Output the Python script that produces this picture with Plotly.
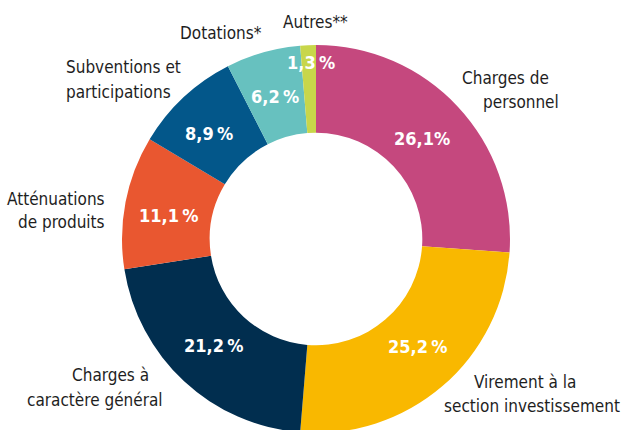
import plotly.graph_objects as go

categories = ["Charges de personnel", "Virement à la section investissement",
              "Charges à caractère général", "Atténuations de produits",
              "Subventions et participations", "Dotations*", "Autres**"]
values = [26.1, 25.2, 21.2, 11.1, 8.9, 6.2, 1.3]
pct_labels = ["26,1%", "25,2\u2009%", "21,2\u2009%", "11,1\u2009%", "8,9\u2009%", "6,2\u2009%", "1,3\u2009%"]
name_lines = [["Charges de", "personnel"],
              ["Virement à la", "section investissement"],
              ["Charges à", "caractère général"],
              ["Atténuations", "de produits"],
              ["Subventions et", "participations"],
              ["Dotations*"],
              ["Autres**"]]
colors = ["#C5487E", "#F9B800", "#012E4F", "#E95730", "#03578A", "#67C1BF", "#C8D64A"]

W, H = 625, 436
FONT = "Liberation Sans Narrow, DejaVu Sans Condensed, Arial Narrow, sans-serif"

# pixel positions of the text (layout only): (x, y, xanchor)
pct_pos = [(422, 138), (417, 346), (213, 345), (168, 215), (209, 133), (275, 96), (311, 62)]
name_pos = [[(505, 78, "center"), (521, 102, "center")],
            [(525, 382, "center"), (622, 406, "right")],
            [(110, 375, "center"), (95, 400, "center")],
            [(107, 199, "right"), (107, 222, "right")],
            [(64, 67, "left"), (64, 92, "left")],
            [(221, 33, "center")],
            [(315, 22, "center")]]

fig = go.Figure(go.Pie(
    labels=categories, values=values, sort=False, direction="clockwise", rotation=0,
    hole=0.548, textinfo="none", hoverinfo="label+percent",
    marker=dict(colors=colors, line=dict(width=0)),
    domain=dict(x=[122 / W, 510 / W], y=[(H - 433) / H, (H - 45) / H]),
    showlegend=False,
))

anns = []
for txt, (px, py) in zip(pct_labels, pct_pos):
    anns.append(dict(x=px / W, y=1 - py / H, xref="paper", yref="paper", text="<b>" + txt + "</b>",
                     showarrow=False, font=dict(family=FONT, size=18, color="white"),
                     xanchor="center", yanchor="middle"))
for lines, poss in zip(name_lines, name_pos):
    for txt, (px, py, xa) in zip(lines, poss):
        anns.append(dict(x=px / W, y=1 - py / H, xref="paper", yref="paper", text=txt,
                         showarrow=False, font=dict(family=FONT, size=17, color="#1e1e1e"),
                         xanchor=xa, yanchor="middle"))

fig.update_layout(width=W, height=H, margin=dict(l=0, r=0, t=0, b=0),
                  paper_bgcolor="white", plot_bgcolor="white", annotations=anns)

fig.write_html("out.html", config={"displayModeBar": False},
               post_script="document.body.style.margin='0';document.body.style.overflow='hidden';")
